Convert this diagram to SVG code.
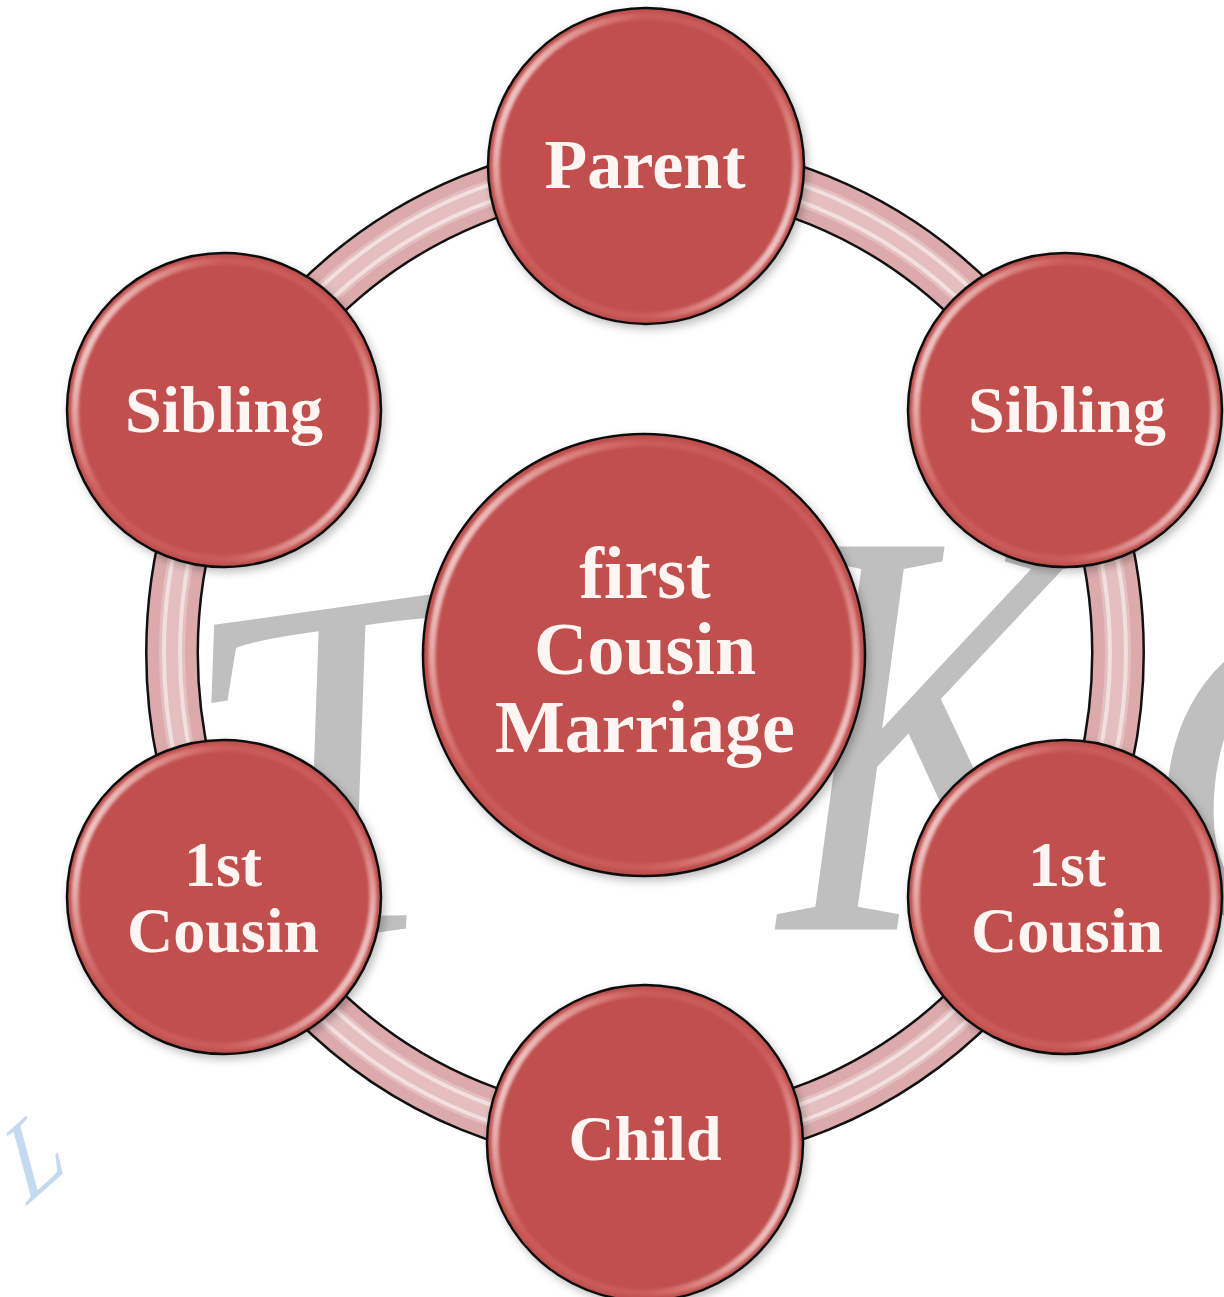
<svg xmlns="http://www.w3.org/2000/svg" width="1224" height="1297" viewBox="0 0 1224 1297">
<style>
.node{fill:#c0504d;stroke:#111;stroke-width:2.5;filter:url(#sh)}
.gloss{fill:none;stroke:url(#gl);stroke-width:7;filter:url(#bl)}
.lbl{font-family:"Liberation Serif","DejaVu Serif",serif;font-weight:bold;fill:#fff6f4;text-anchor:middle}
.wm{font-family:"Liberation Serif","DejaVu Serif",serif;font-style:italic;fill:#bfbfbf}
</style>
<defs>
<filter id="sh" x="-20%" y="-20%" width="140%" height="140%">
<feDropShadow dx="3" dy="4" stdDeviation="4" flood-color="#000" flood-opacity="0.25"/>
</filter>
<filter id="bl" x="-10%" y="-10%" width="120%" height="120%"><feGaussianBlur stdDeviation="1.5"/></filter>
<linearGradient id="gl" x1="0" y1="0.25" x2="1" y2="0.75">
<stop offset="0" stop-color="#fff" stop-opacity="0.85"/>
<stop offset="0.3" stop-color="#f08a86" stop-opacity="0.2"/>
<stop offset="0.7" stop-color="#f08a86" stop-opacity="0.2"/>
<stop offset="1" stop-color="#fff" stop-opacity="0.85"/>
</linearGradient>
</defs>
<rect width="1224" height="1297" fill="#fff"/>
<g id="watermark">
<text class="wm" x="190" y="925" font-size="500" transform="rotate(-8 420 770)">T</text>
<text class="wm" x="780" y="715" font-size="450" transform="scale(1,1.3)">K</text>
<text class="wm" x="1140" y="930" font-size="480">C</text>
<text x="0" y="0" font-family="Liberation Serif,serif" font-size="115" fill="#c5d9f0" transform="matrix(0.62,-0.55,0.26,0.97,24,1208)">L</text>
</g>
<g id="connectors">
<ellipse cx="645" cy="653" rx="473" ry="487" fill="none" stroke="#111" stroke-width="54"/>
<ellipse cx="645" cy="653" rx="473" ry="487" fill="none" stroke="#dcaaaa" stroke-width="49"/>
<ellipse cx="645" cy="653" rx="473" ry="487" fill="none" stroke="#fff" stroke-opacity="0.25" stroke-width="26"/>
<ellipse cx="645" cy="653" rx="465" ry="479" fill="none" stroke="#fff" stroke-opacity="0.5" stroke-width="4"/>
<ellipse cx="645" cy="653" rx="481" ry="495" fill="none" stroke="#fff" stroke-opacity="0.5" stroke-width="4"/>
</g>
<g id="node-center">
<circle class="node" cx="644" cy="655" r="221"/>
<circle class="gloss" cx="644" cy="655" r="212"/>
<text class="lbl" x="645" y="598" font-size="74">first</text>
<text class="lbl" x="645" y="674" font-size="74">Cousin</text>
<text class="lbl" x="645" y="752" font-size="74">Marriage</text>
</g>
<g id="node-parent">
<circle class="node" cx="646" cy="166" r="158"/>
<circle class="gloss" cx="646" cy="166" r="150"/>
<text class="lbl" x="645" y="188" font-size="70">Parent</text>
</g>
<g id="node-sibling-left">
<circle class="node" cx="224" cy="410" r="157"/>
<circle class="gloss" cx="224" cy="410" r="149"/>
<text class="lbl" x="224" y="432" font-size="66">Sibling</text>
</g>
<g id="node-sibling-right">
<circle class="node" cx="1065" cy="410" r="157"/>
<circle class="gloss" cx="1065" cy="410" r="149"/>
<text class="lbl" x="1067" y="432" font-size="66">Sibling</text>
</g>
<g id="node-cousin-left">
<circle class="node" cx="224" cy="897" r="157"/>
<circle class="gloss" cx="224" cy="897" r="149"/>
<text class="lbl" x="223" y="886" font-size="64">1st</text>
<text class="lbl" x="223" y="952" font-size="64">Cousin</text>
</g>
<g id="node-cousin-right">
<circle class="node" cx="1065" cy="897" r="157"/>
<circle class="gloss" cx="1065" cy="897" r="149"/>
<text class="lbl" x="1067" y="886" font-size="64">1st</text>
<text class="lbl" x="1067" y="952" font-size="64">Cousin</text>
</g>
<g id="node-child">
<circle class="node" cx="645" cy="1143" r="158"/>
<circle class="gloss" cx="645" cy="1143" r="150"/>
<text class="lbl" x="645" y="1160" font-size="64">Child</text>
</g>
</svg>
